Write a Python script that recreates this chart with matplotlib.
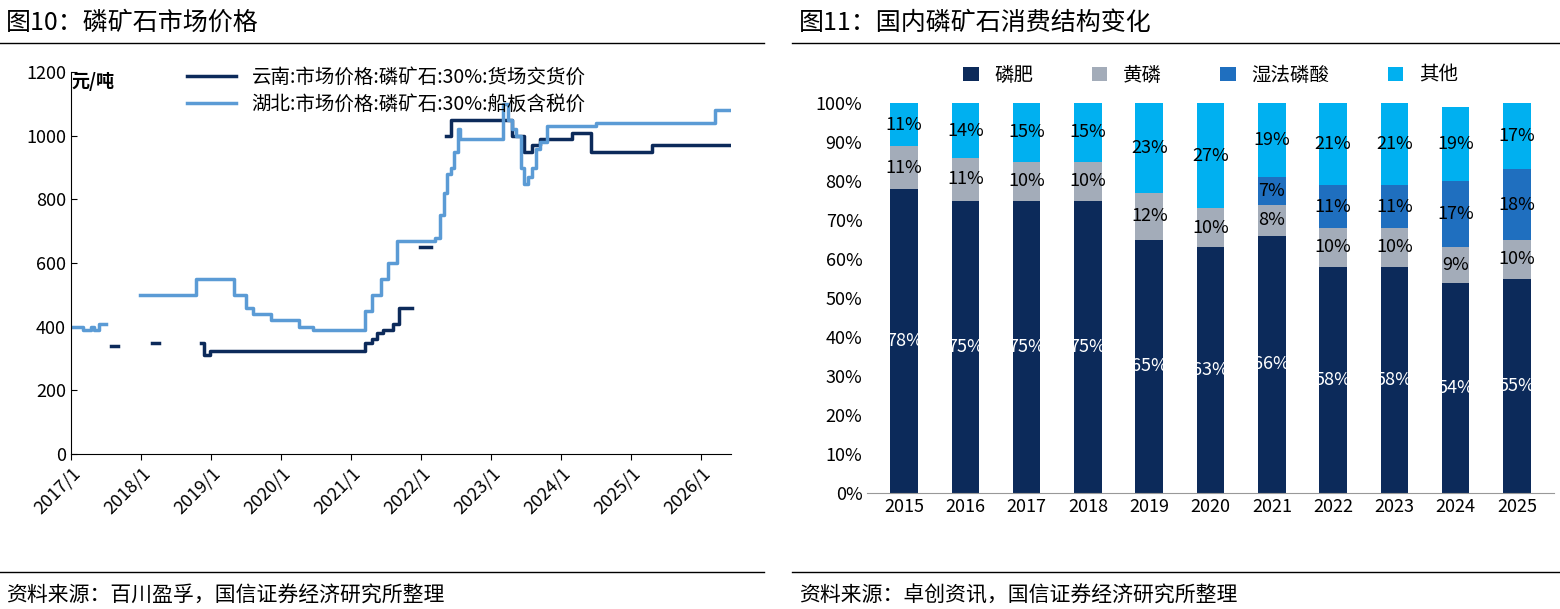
import numpy as np
import matplotlib
matplotlib.use("Agg")
import matplotlib.pyplot as plt

plt.rcParams['font.family'] = ['Noto Sans CJK SC', 'DejaVu Sans']

# left chart: step series (fractional year, price); nan = gap
hubei_x = [2017.0, 2017.17, 2017.28, 2017.33, 2017.4, 2017.5, 2017.99, 2018.78, 2019.33, 2019.5,
           2019.6, 2019.85, 2020.25, 2020.45, 2020.6, 2021.2, 2021.3, 2021.42, 2021.52, 2021.65,
           2022.2, 2022.27, 2022.32, 2022.37, 2022.42, 2022.47, 2022.52, 2022.55, 2023.17, 2023.24,
           2023.3, 2023.35, 2023.42, 2023.47, 2023.52, 2023.58, 2023.64, 2023.7, 2023.8, 2024.5,
           2026.2, 2026.42]
hubei_y = [400, 390, 400, 390, 410, np.nan, 500, 550, 500, 460,
           440, 420, 400, 390, 390, 450, 500, 550, 600, 670,
           680, 750, 820, 880, 900, 950, 1020, 990, 1100, 1050,
           1020, 1000, 900, 850, 870, 900, 960, 980, 1030, 1040,
           1080, 1080]
yunnan_x = [2017.57, 2017.66, 2017.67, 2018.16, 2018.24, 2018.25, 2018.85, 2018.9, 2018.98, 2021.2,
            2021.3, 2021.37, 2021.45, 2021.6, 2021.68, 2021.86, 2021.87, 2021.98, 2022.13, 2022.14,
            2022.35, 2022.42, 2023.2, 2023.3, 2023.4, 2023.46, 2023.58, 2023.7, 2023.8, 2024.15,
            2024.42, 2025.3, 2026.42]
yunnan_y = [340, 340, np.nan, 350, 350, np.nan, 350, 310, 325, 350,
            360, 380, 390, 410, 460, 460, np.nan, 650, 650, np.nan,
            1000, 1050, 1050, 1000, 1000, 950, 970, 990, 990, 1010,
            950, 970, 970]
year_ticks = list(range(2017, 2027))

# right chart
years = [str(y) for y in range(2015, 2026)]
fert = [78, 75, 75, 75, 65, 63, 66, 58, 58, 54, 55]
yellow_p = [11, 11, 10, 10, 12, 10, 8, 10, 10, 9, 10]
wet_acid = [0, 0, 0, 0, 0, 0, 7, 11, 11, 17, 18]
other = [11, 14, 15, 15, 23, 27, 19, 21, 21, 19, 17]

navy, light = "#0c2a5a", "#5b9bd5"

fig = plt.figure(figsize=(15.6, 6.09), dpi=100)

# titles and rules
fig.text(0.004, 0.963, "图10：磷矿石市场价格", fontsize=18, va="center")
fig.text(0.512, 0.963, "图11：国内磷矿石消费结构变化", fontsize=18, va="center")
fig.text(0.004, 0.022, "资料来源：百川盈孚，国信证券经济研究所整理", fontsize=15, va="center")
fig.text(0.512, 0.022, "资料来源：卓创资讯，国信证券经济研究所整理", fontsize=15, va="center")
for x0, x1 in [(0.0, 0.49), (0.508, 1.0)]:
    fig.add_artist(plt.Line2D([x0, x1], [0.93, 0.93], color="black", lw=1))
    fig.add_artist(plt.Line2D([x0, x1], [0.06, 0.06], color="black", lw=1))

ax = fig.add_axes([0.0455, 0.2545, 0.423, 0.627])
ax.step(yunnan_x, yunnan_y, where="post", color=navy, lw=2.5, label="云南:市场价格:磷矿石:30%:货场交货价")
ax.step(hubei_x, hubei_y, where="post", color=light, lw=2.5, label="湖北:市场价格:磷矿石:30%:船板含税价")
ax.set_xlim(2017, 2026.42)
ax.set_ylim(0, 1200)
ax.set_yticks(range(0, 1201, 200))
ax.set_xticks(year_ticks)
ax.set_xticklabels([f"{y}/1" for y in year_ticks], rotation=45, ha="right", rotation_mode="anchor")
ax.tick_params(labelsize=13, direction="in", length=4)
ax.tick_params(axis="x", direction="out")
for s in ["top", "right"]:
    ax.spines[s].set_visible(False)
ax.text(0.0, 1.0, "元/吨", transform=ax.transAxes, fontsize=13, fontweight="bold", va="top", ha="left")
ax.legend(loc="upper left", bbox_to_anchor=(0.15, 1.06), frameon=False, fontsize=14,
          handlelength=2.5, labelspacing=0.3)

ax2 = fig.add_axes([0.556, 0.1905, 0.44, 0.640])
x = np.arange(len(years))
w = 0.45
series = [(fert, "磷肥", "#0c2a5a", "white"), (yellow_p, "黄磷", "#a3acb9", "black"),
          (wet_acid, "湿法磷酸", "#1f6fbf", "black"), (other, "其他", "#00b0f0", "black")]
bottom = np.zeros(len(years))
for vals, name, col, tcol in series:
    vals = np.array(vals, dtype=float)
    ax2.bar(x, vals, w, bottom=bottom, color=col, label=name)
    for xi, b, v in zip(x, bottom, vals):
        if v > 0:
            ax2.text(xi, b + v / 2, f"{int(v)}%", ha="center", va="center", fontsize=13, color=tcol)
    bottom += vals
ax2.set_xlim(-0.6, len(years) - 0.4)
ax2.set_ylim(0, 100)
ax2.set_yticks(range(0, 101, 10))
ax2.set_yticklabels([f"{v}%" for v in range(0, 101, 10)])
ax2.set_xticks(x)
ax2.set_xticklabels(years)
ax2.tick_params(labelsize=13, length=0)
for s in ["top", "right", "left"]:
    ax2.spines[s].set_visible(False)
ax2.spines["bottom"].set_color("#999999")
ax2.legend(loc="lower center", bbox_to_anchor=(0.5, 1.0), ncol=4, frameon=False, fontsize=14,
           handlelength=0.8, handleheight=0.8, columnspacing=3)

fig.savefig("out.png", dpi=100)
